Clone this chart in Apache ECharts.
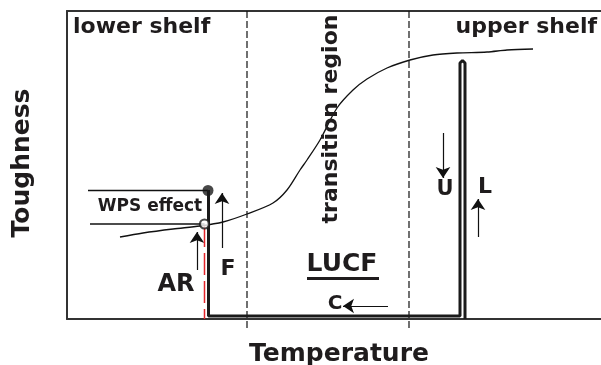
<!DOCTYPE html>
<html>
<head>
<meta charset="utf-8">
<script src="https://cdn.jsdelivr.net/npm/echarts@6/dist/echarts.min.js"></script>
<style>
  html, body { margin: 0; padding: 0; background: #fff; }
  #chart { width: 601px; height: 365px; }
</style>
</head>
<body>
<div id="chart"></div>
<script>
// schematic units: temperature 0..534, toughness 0..308 (no tick labels in the figure)
const curveTemp = [53, 76, 106, 133, 156, 180, 206, 220, 233, 240, 253, 270, 286, 300, 320, 343, 366, 390, 420, 440, 466]
const curveTough = [82, 86, 90, 93, 97, 105, 116, 129, 149, 159, 179, 211, 229, 240, 251, 259, 264, 266, 267, 269, 270]

// region borders (dashed)
const regionBounds = [180, 342]

// LUCF loop path (thick)
const loopTemp = [141.5, 141.5, 393, 393, 395.5, 398, 398]
const loopTough = [129, 3, 3, 256, 258.5, 256, 0]

// WPS effect levels
const wpsTemp = [21, 141]
const wpsUpper = 128.5
const wpsLower = 95
const arTemp = 137.5

// arrows: [x1, y1, x2, y2]
const arrowAR = [130, 49, 130, 87]
const arrowF = [155, 71, 155, 126]
const arrowU = [376, 186, 376, 141]
const arrowL = [411, 82, 411, 120]
const arrowC = [321, 13, 276, 13]

const chart = echarts.init(document.getElementById('chart'))

const font = '"DejaVu Sans", sans-serif'
function txt(text, x, y, size, extra, align) {
  return Object.assign({
    type: 'text', x: x, y: y, z: 100,
    style: {
      text: text, fill: '#1f1c1d', fontSize: size, fontWeight: 'bold', fontFamily: font,
      textAlign: align || 'center', textVerticalAlign: 'middle'
    }
  }, extra || {})
}
function seg(xs, ys, style) {
  return {
    type: 'line', symbol: 'none', clip: false, silent: true,
    data: xs.map((x, i) => [x, ys[i]]),
    lineStyle: style
  }
}
function arrow(a) {
  return { coords: [[a[0], a[1]], [a[2], a[3]]] }
}

chart.setOption({
  animation: false,
  grid: { left: 67, right: 0, top: 11, bottom: 46 },
  xAxis: [{
    type: 'value', min: 0, max: 534,
    axisLine: { show: true, onZero: false, lineStyle: { color: '#333', width: 2 } },
    axisTick: { show: false }, axisLabel: { show: false }, splitLine: { show: false }
  }, {
    type: 'value', min: 0, max: 534, position: 'top',
    axisLine: { show: true, onZero: false, lineStyle: { color: '#333', width: 2 } },
    axisTick: { show: false }, axisLabel: { show: false }, splitLine: { show: false }
  }],
  yAxis: {
    type: 'value', min: 0, max: 308,
    axisLine: { show: true, onZero: false, lineStyle: { color: '#333', width: 2 } },
    axisTick: { show: false }, axisLabel: { show: false }, splitLine: { show: false }
  },
  series: [
    seg([regionBounds[0], regionBounds[0]], [308, -10], { color: '#111', width: 1.2, type: [7, 3] }),
    seg([regionBounds[1], regionBounds[1]], [308, -10], { color: '#111', width: 1.2, type: [7, 3] }),
    seg([arTemp, arTemp], [94, 0], { color: '#e3242b', width: 1.5, type: [22, 6] }),
    seg(wpsTemp, [wpsUpper, wpsUpper], { color: '#111', width: 1.3 }),
    seg([wpsTemp[0] + 2, arTemp], [wpsLower, wpsLower], { color: '#111', width: 1.3 }),
    Object.assign(seg(curveTemp, curveTough, { color: '#111', width: 1.3 }), { smooth: 0.3 }),
    seg(loopTemp, loopTough, { color: '#1a1a1a', width: 3 }),
    {
      type: 'scatter', symbol: 'circle', symbolSize: 11, silent: true,
      data: [[141, wpsUpper]], itemStyle: { color: '#1a1a1a' }
    },
    {
      type: 'scatter', symbol: 'circle', symbolSize: 9, silent: true, z: 5,
      data: [[arTemp, wpsLower]], itemStyle: { color: '#fff', borderColor: '#1a1a1a', borderWidth: 2.2 }
    },
    {
      type: 'lines', coordinateSystem: 'cartesian2d', silent: true,
      symbol: ['none', 'arrow'], symbolSize: [6, 11],
      lineStyle: { color: '#111', width: 1.2, opacity: 1 },
      data: [arrow(arrowAR), arrow(arrowF), arrow(arrowU), arrow(arrowL), arrow(arrowC)]
    }
  ],
  graphic: [
    txt('lower shelf', 73, 27, 22, null, 'left'),
    txt('upper shelf', 597, 27, 22, null, 'right'),
    txt('transition region', 331, 119, 22, { rotation: Math.PI / 2 }),
    txt('Toughness', 22, 163, 25, { rotation: Math.PI / 2 }),
    txt('Temperature', 339, 354, 25),
    txt('WPS effect', 150, 207, 17),
    txt('LUCF', 342, 264, 25),
    { type: 'rect', shape: { x: 307, y: 277, width: 72, height: 3 }, style: { fill: '#1f1c1d' }, z: 100 },
    txt('C', 335, 304, 20),
    txt('U', 445, 190, 21),
    txt('L', 485, 187, 22),
    txt('F', 228, 269, 22),
    txt('AR', 176, 285, 24)
  ]
})
</script>
</body>
</html>
